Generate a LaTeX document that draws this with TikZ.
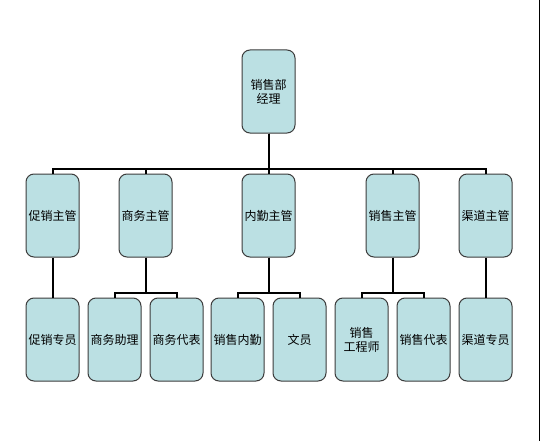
\documentclass[tikz,border=0pt]{standalone}
\usepackage{fontspec}
\newfontfamily\cjk{Noto Sans CJK SC}
\definecolor{boxfill}{RGB}{187,224,227}
\definecolor{boxline}{RGB}{60,60,60}
\begin{document}
\begin{tikzpicture}[x=1pt,y=-1pt,
  box/.style={draw=boxline,line width=1pt,fill=boxfill,rounded corners=8pt,
    minimum width=53pt,minimum height=83pt,inner sep=0pt,align=center,
    font=\cjk\fontsize{12pt}{14pt}\selectfont},
  conn/.style={line width=2pt,black}]
\useasboundingbox (0,0) rectangle (540,441);
\fill[white] (0,0) rectangle (540,441);
\draw[line width=1pt] (539.5,0) -- (539.5,441);
% top
\node[box] (mgr) at (268.5,91.5) {销售部\\经理};
% second row
\node[box] (s1) at (52.5,215.5) {促销主管};
\node[box] (s2) at (145.5,215.5) {商务主管};
\node[box] (s3) at (268.5,215.5) {内勤主管};
\node[box] (s4) at (392.5,215.5) {销售主管};
\node[box] (s5) at (485.5,215.5) {渠道主管};
% third row
\node[box] (t1) at (52.5,339.5) {促销专员};
\node[box] (t2) at (114.5,339.5) {商务助理};
\node[box] (t3) at (176.5,339.5) {商务代表};
\node[box] (t4) at (237.5,339.5) {销售内勤};
\node[box] (t5) at (299.5,339.5) {文员};
\node[box] (t6) at (361.5,339.5) {销售\\工程师};
\node[box] (t7) at (423.5,339.5) {销售代表};
\node[box] (t8) at (485.5,339.5) {渠道专员};
\coordinate (bar) at (0,169);
\coordinate (bar2) at (0,293);
% connectors
\foreach \c in {s1,s2,s3,s4,s5}
  \draw[conn] (mgr.south) -- (mgr.south |- bar) -| (\c.north);
\draw[conn] (s1.south) -- (t1.north);
\draw[conn] (s5.south) -- (t8.north);
\foreach \p/\c in {s2/t2,s2/t3,s3/t4,s3/t5,s4/t6,s4/t7}
  \draw[conn] (\p.south) -- (\p.south |- bar2) -| (\c.north);
\end{tikzpicture}
\end{document}
